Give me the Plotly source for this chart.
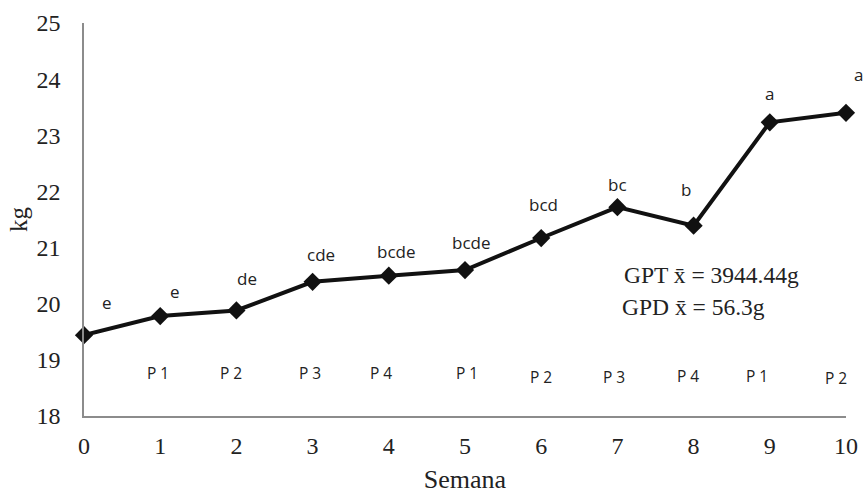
import plotly.graph_objects as go

# ---- data ----
semana = [0, 1, 2, 3, 4, 5, 6, 7, 8, 9, 10]
peso_kg = [19.44, 19.78, 19.88, 20.39, 20.50, 20.60, 21.17, 21.72, 21.39, 23.23, 23.40]
letras = ["e", "e", "de", "cde", "bcde", "bcde", "bcd", "bc", "b", "a", "a"]
periodos = ["P 1", "P 2", "P 3", "P 4", "P 1", "P 2", "P 3", "P 4", "P 1", "P 2"]
y_ticks = [18, 19, 20, 21, 22, 23, 24, 25]
x_ticks = [0, 1, 2, 3, 4, 5, 6, 7, 8, 9, 10]
texto_gpt = "GPT x\u0304 = 3944.44g"
texto_gpd = "GPD x\u0304 = 56.3g"

# ---- annotation placement in pixels (not data) ----
letra_dx = [23, 15, 11, 8, 8, 6, 2, 0, -8, 0, 12]
letra_dy = [33, 25, 32, 27, 24, 28, 34, 23, 36, 29, 38]
periodo_x = [0.97, 1.93, 2.96, 3.90, 5.03, 6.00, 6.96, 7.93, 8.83, 9.87]
periodo_y = [18.76, 18.76, 18.76, 18.76, 18.76, 18.70, 18.70, 18.71, 18.71, 18.68]

serif = "Liberation Serif, Times New Roman, serif"
sans = "Open Sans, Noto Sans, sans-serif"

fig = go.Figure()
fig.add_trace(go.Scatter(
    x=semana, y=peso_kg, mode="lines+markers",
    line=dict(color="#111111", width=4),
    marker=dict(symbol="diamond", size=14, color="#111111"),
    cliponaxis=False, showlegend=False,
))

annotations = []
for i, t in enumerate(letras):
    annotations.append(dict(
        x=semana[i], y=peso_kg[i], xshift=letra_dx[i], yshift=letra_dy[i], text=t,
        showarrow=False, font=dict(family=sans, size=17, color="#222222"),
        xanchor="center", yanchor="middle",
    ))
for px, py, t in zip(periodo_x, periodo_y, periodos):
    annotations.append(dict(
        x=px, y=py, text=t, showarrow=False,
        font=dict(family=sans, size=15.5, color="#222222"),
        xanchor="center", yanchor="middle",
    ))
annotations.append(dict(x=7.06, y=20.51, text=texto_gpt, showarrow=False,
                        xanchor="left", yanchor="middle",
                        font=dict(family=serif, size=23.5, color="#222222")))
annotations.append(dict(x=7.04, y=19.95, text=texto_gpd, showarrow=False,
                        xanchor="left", yanchor="middle",
                        font=dict(family=serif, size=23.5, color="#222222")))

fig.update_layout(
    width=865, height=494,
    margin=dict(l=84, r=19, t=23, b=78),
    paper_bgcolor="white", plot_bgcolor="white",
    annotations=annotations,
    xaxis=dict(
        range=[0, 10], tickvals=x_ticks, ticktext=[str(v) for v in x_ticks],
        showgrid=False, zeroline=False, showline=True, linecolor="#8c8c8c",
        linewidth=1.5, ticks="", ticklabelstandoff=7, automargin=False,
        tickfont=dict(family=serif, size=24, color="#222222"),
        title=dict(text="Semana", font=dict(family=serif, size=26, color="#222222"),
                   standoff=12),
    ),
    yaxis=dict(
        range=[18, 25], tickvals=y_ticks, ticktext=[str(v) for v in y_ticks],
        showgrid=False, zeroline=False, showline=True, linecolor="#8c8c8c",
        linewidth=1.5, ticks="", ticklabelstandoff=17, automargin=False,
        tickfont=dict(family=serif, size=24, color="#222222"),
        title=dict(text="kg", font=dict(family=serif, size=25, color="#222222"),
                   standoff=2),
    ),
)

fig.write_html(
    "out.html",
    config={"displayModeBar": False},
    post_script="document.body.style.margin='0';document.body.style.overflow='hidden';",
)
